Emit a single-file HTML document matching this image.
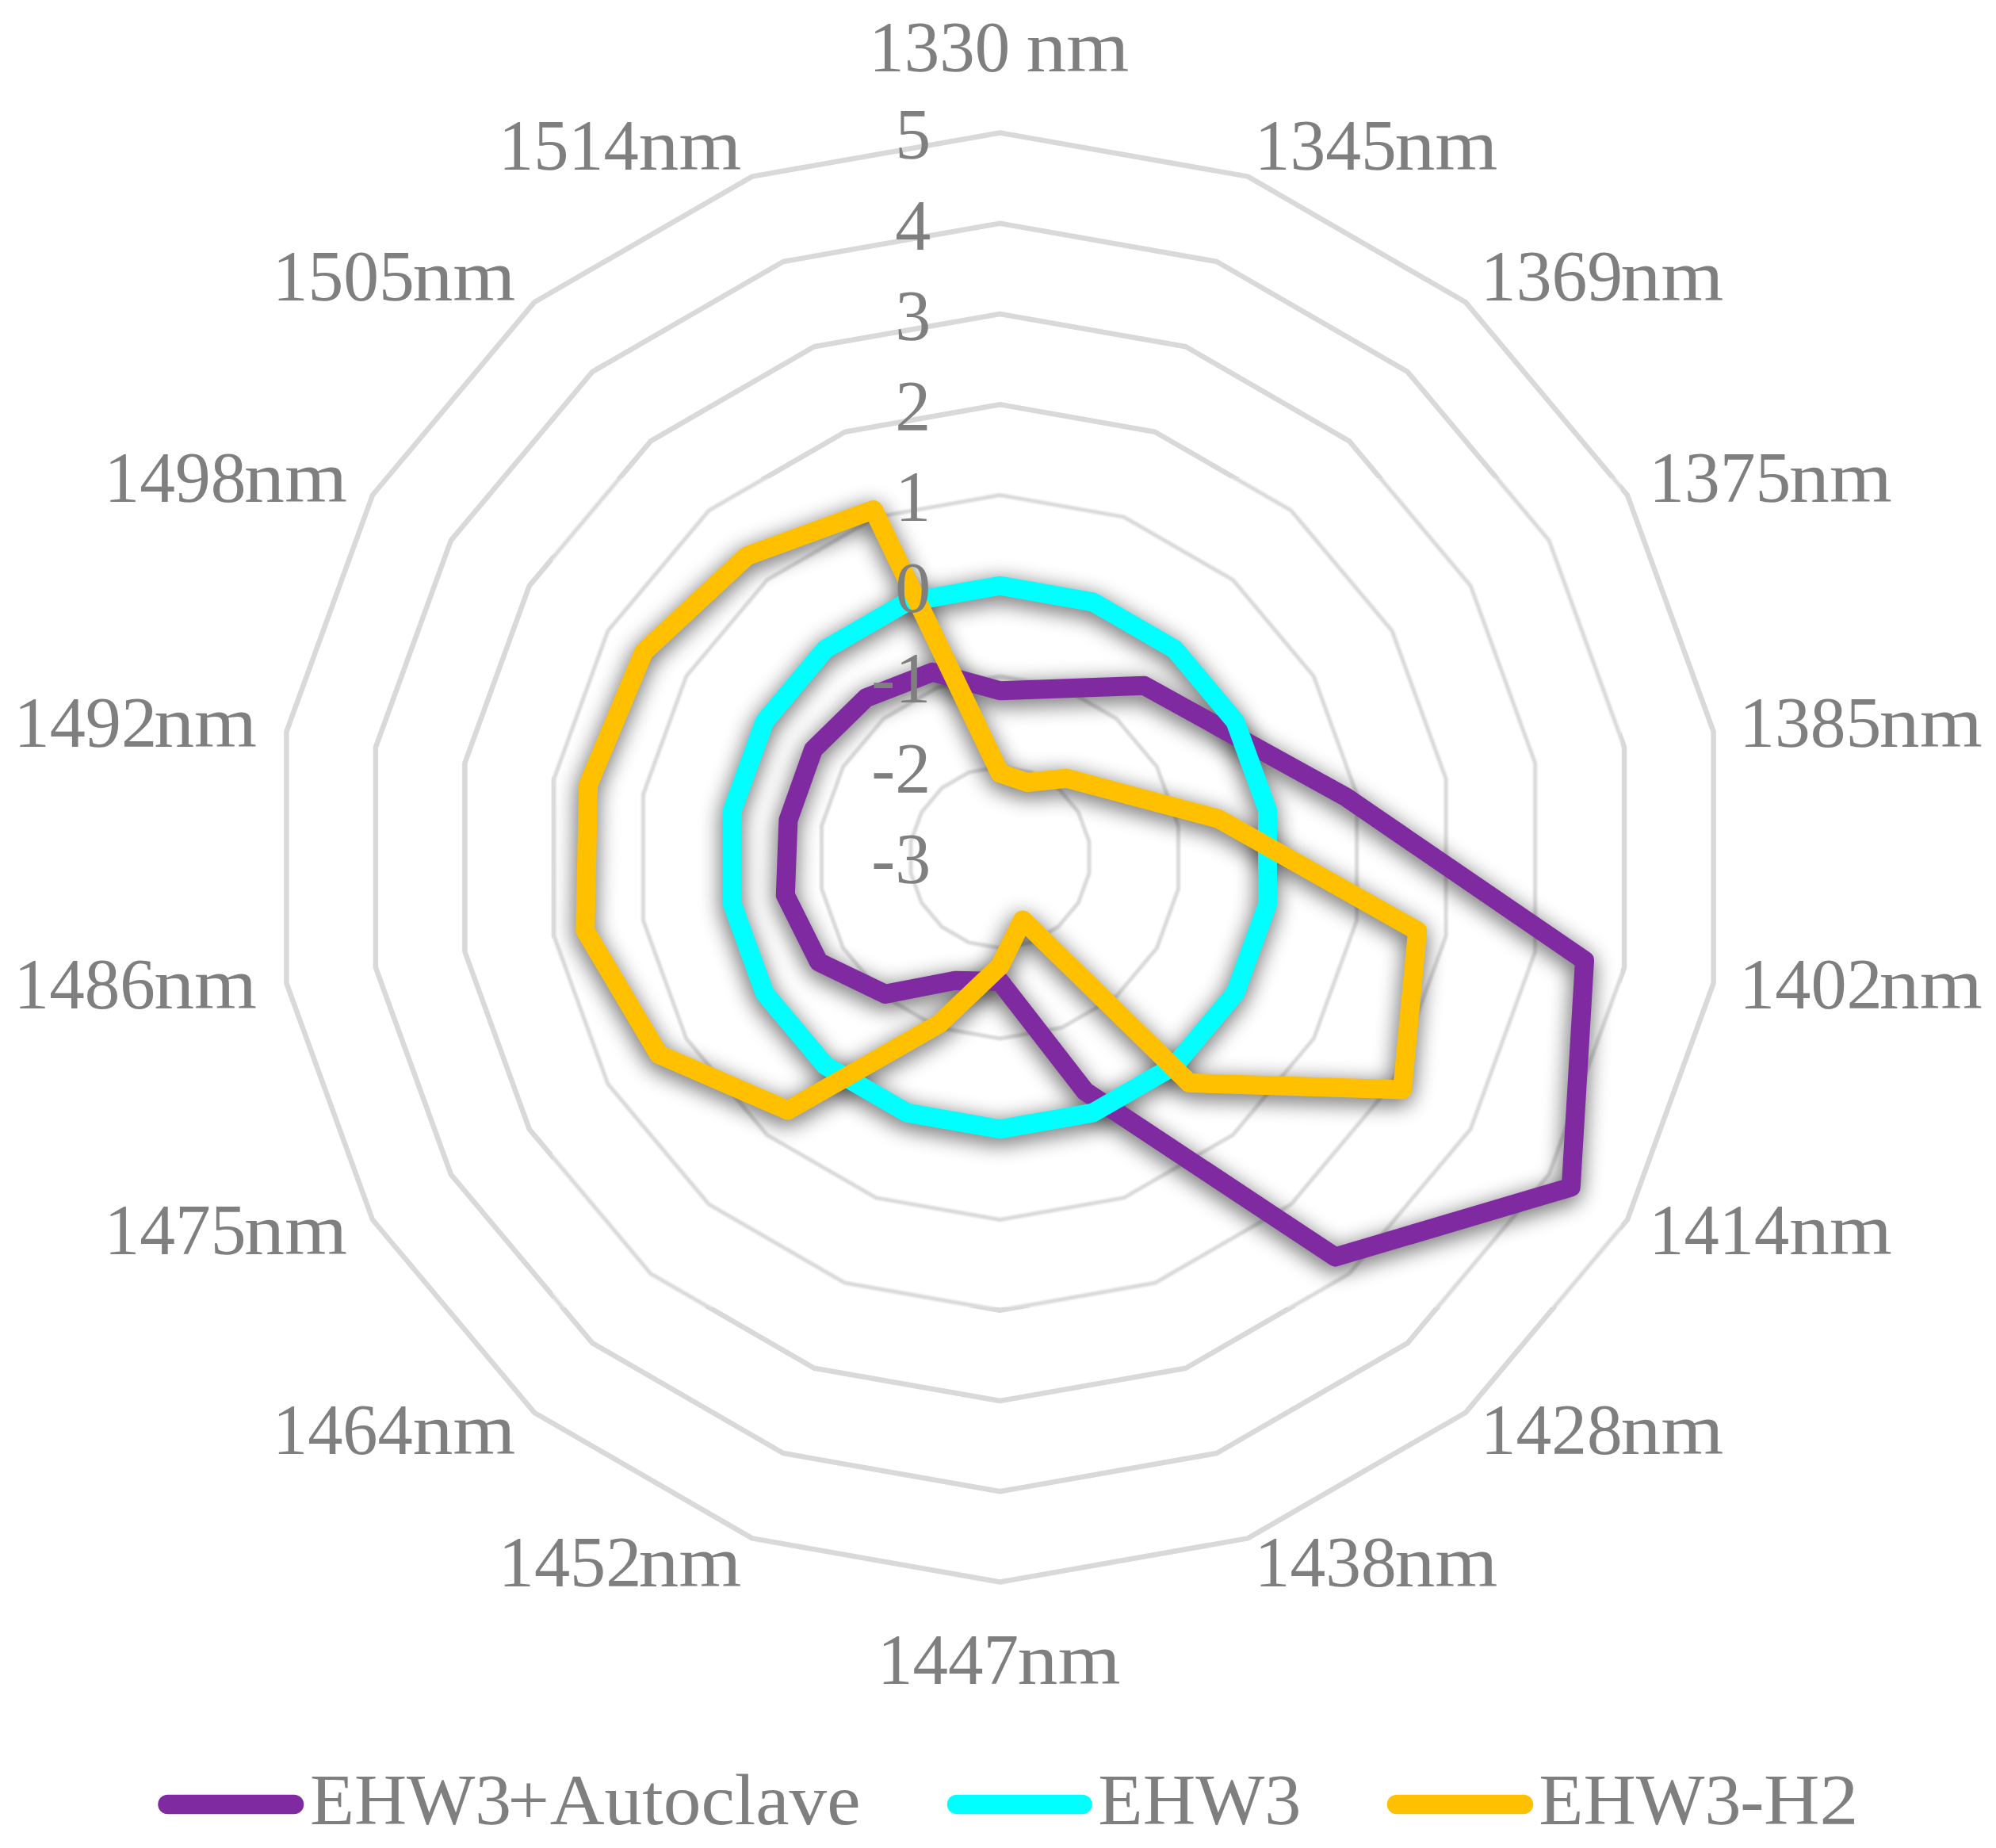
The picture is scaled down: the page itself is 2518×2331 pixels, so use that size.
<!DOCTYPE html>
<html lang="en"><head><meta charset="utf-8"><title>Radar chart</title>
<style>html,body{margin:0;padding:0;background:#fff}body{width:2518px;height:2331px;overflow:hidden}svg{display:block}text{font-family:"Liberation Serif",serif;font-size:90px;fill:#7F7F7F}</style></head><body>
<svg width="2518" height="2331" viewBox="0 0 2518 2331">
<defs><filter id="sh" x="-10%" y="-10%" width="120%" height="120%" color-interpolation-filters="sRGB"><feGaussianBlur in="SourceAlpha" stdDeviation="14"/><feOffset dx="-1" dy="6"/><feComponentTransfer><feFuncA type="linear" slope="0.66"/></feComponentTransfer></filter>
<filter id="gb" filterUnits="userSpaceOnUse" x="0" y="0" width="2518" height="2331"><feGaussianBlur stdDeviation="1.1"/></filter>
<clipPath id="cin"><rect x="697" y="603" width="1348" height="1046"/></clipPath>
<clipPath id="cout"><path clip-rule="evenodd" d="M0 0H2518V2331H0Z M697 603H2045V1649H697Z"/></clipPath></defs>
<rect width="2518" height="2331" fill="#fff"/>
<g id="grid" fill="none" stroke="#D9D9D9" stroke-width="6.5" stroke-linejoin="round">
<g clip-path="url(#cout)"><polygon points="1261.5,967.2 1300.6,974.1 1334.9,994.0 1360.4,1024.4 1374.0,1061.7 1374.0,1101.3 1360.4,1138.6 1334.9,1169.0 1300.6,1188.9 1261.5,1195.8 1222.4,1188.9 1188.1,1169.0 1162.6,1138.6 1149.0,1101.3 1149.0,1061.7 1162.6,1024.4 1188.1,994.0 1222.4,974.1"/><polygon points="1261.5,853.0 1339.7,866.8 1408.4,906.5 1459.4,967.2 1486.5,1041.8 1486.5,1121.2 1459.4,1195.8 1408.4,1256.5 1339.7,1296.2 1261.5,1310.0 1183.3,1296.2 1114.6,1256.5 1063.6,1195.8 1036.5,1121.2 1036.5,1041.8 1063.6,967.2 1114.6,906.5 1183.3,866.8"/><polygon points="1261.5,738.8 1378.7,759.4 1481.8,818.9 1558.3,910.1 1599.0,1022.0 1599.0,1141.0 1558.3,1252.9 1481.8,1344.1 1378.7,1403.6 1261.5,1424.2 1144.3,1403.6 1041.2,1344.1 964.7,1252.9 924.0,1141.0 924.0,1022.0 964.7,910.1 1041.2,818.9 1144.3,759.4"/><polygon points="1261.5,624.5 1417.8,652.1 1555.3,731.4 1657.3,853.0 1711.6,1002.1 1711.6,1160.9 1657.3,1310.0 1555.3,1431.6 1417.8,1510.9 1261.5,1538.5 1105.2,1510.9 967.7,1431.6 865.7,1310.0 811.4,1160.9 811.4,1002.1 865.7,853.0 967.7,731.4 1105.2,652.1"/><polygon points="1261.5,510.2 1456.9,544.7 1628.7,643.9 1756.2,795.9 1824.1,982.3 1824.1,1180.7 1756.2,1367.1 1628.7,1519.1 1456.9,1618.3 1261.5,1652.8 1066.1,1618.3 894.3,1519.1 766.8,1367.1 698.9,1180.7 698.9,982.3 766.8,795.9 894.3,643.9 1066.1,544.7"/><polygon points="1261.5,396.0 1496.0,437.3 1702.1,556.4 1855.2,738.8 1936.6,962.5 1936.6,1200.5 1855.2,1424.2 1702.1,1606.6 1496.0,1725.7 1261.5,1767.0 1027.0,1725.7 820.9,1606.6 667.8,1424.3 586.4,1200.5 586.4,962.5 667.8,738.8 820.9,556.4 1027.0,437.3"/><polygon points="1261.5,281.8 1535.0,330.0 1775.6,468.9 1954.1,681.6 2049.1,942.6 2049.1,1220.4 1954.1,1481.4 1775.6,1694.1 1535.0,1833.0 1261.5,1881.2 988.0,1833.0 747.4,1694.1 568.9,1481.4 473.9,1220.4 473.9,942.6 568.9,681.6 747.4,468.9 988.0,330.0"/><polygon points="1261.5,167.5 1574.1,222.6 1849.0,381.3 2053.0,624.5 2161.6,922.8 2161.6,1240.2 2053.0,1538.5 1849.0,1781.7 1574.1,1940.4 1261.5,1995.5 948.9,1940.4 674.0,1781.7 470.0,1538.5 361.4,1240.2 361.4,922.8 470.0,624.5 674.0,381.3 948.9,222.6"/></g>
<g clip-path="url(#cin)"><g filter="url(#gb)" stroke-width="5.0"><polygon points="1261.5,967.2 1300.6,974.1 1334.9,994.0 1360.4,1024.4 1374.0,1061.7 1374.0,1101.3 1360.4,1138.6 1334.9,1169.0 1300.6,1188.9 1261.5,1195.8 1222.4,1188.9 1188.1,1169.0 1162.6,1138.6 1149.0,1101.3 1149.0,1061.7 1162.6,1024.4 1188.1,994.0 1222.4,974.1"/><polygon points="1261.5,853.0 1339.7,866.8 1408.4,906.5 1459.4,967.2 1486.5,1041.8 1486.5,1121.2 1459.4,1195.8 1408.4,1256.5 1339.7,1296.2 1261.5,1310.0 1183.3,1296.2 1114.6,1256.5 1063.6,1195.8 1036.5,1121.2 1036.5,1041.8 1063.6,967.2 1114.6,906.5 1183.3,866.8"/><polygon points="1261.5,738.8 1378.7,759.4 1481.8,818.9 1558.3,910.1 1599.0,1022.0 1599.0,1141.0 1558.3,1252.9 1481.8,1344.1 1378.7,1403.6 1261.5,1424.2 1144.3,1403.6 1041.2,1344.1 964.7,1252.9 924.0,1141.0 924.0,1022.0 964.7,910.1 1041.2,818.9 1144.3,759.4"/><polygon points="1261.5,624.5 1417.8,652.1 1555.3,731.4 1657.3,853.0 1711.6,1002.1 1711.6,1160.9 1657.3,1310.0 1555.3,1431.6 1417.8,1510.9 1261.5,1538.5 1105.2,1510.9 967.7,1431.6 865.7,1310.0 811.4,1160.9 811.4,1002.1 865.7,853.0 967.7,731.4 1105.2,652.1"/><polygon points="1261.5,510.2 1456.9,544.7 1628.7,643.9 1756.2,795.9 1824.1,982.3 1824.1,1180.7 1756.2,1367.1 1628.7,1519.1 1456.9,1618.3 1261.5,1652.8 1066.1,1618.3 894.3,1519.1 766.8,1367.1 698.9,1180.7 698.9,982.3 766.8,795.9 894.3,643.9 1066.1,544.7"/><polygon points="1261.5,396.0 1496.0,437.3 1702.1,556.4 1855.2,738.8 1936.6,962.5 1936.6,1200.5 1855.2,1424.2 1702.1,1606.6 1496.0,1725.7 1261.5,1767.0 1027.0,1725.7 820.9,1606.6 667.8,1424.3 586.4,1200.5 586.4,962.5 667.8,738.8 820.9,556.4 1027.0,437.3"/><polygon points="1261.5,281.8 1535.0,330.0 1775.6,468.9 1954.1,681.6 2049.1,942.6 2049.1,1220.4 1954.1,1481.4 1775.6,1694.1 1535.0,1833.0 1261.5,1881.2 988.0,1833.0 747.4,1694.1 568.9,1481.4 473.9,1220.4 473.9,942.6 568.9,681.6 747.4,468.9 988.0,330.0"/><polygon points="1261.5,167.5 1574.1,222.6 1849.0,381.3 2053.0,624.5 2161.6,922.8 2161.6,1240.2 2053.0,1538.5 1849.0,1781.7 1574.1,1940.4 1261.5,1995.5 948.9,1940.4 674.0,1781.7 470.0,1538.5 361.4,1240.2 361.4,922.8 470.0,624.5 674.0,381.3 948.9,222.6"/></g></g>
</g>
<polygon points="1261.5,871.3 1339.0,868.5 1443.3,864.8 1542.3,919.4 1696.9,1004.7 1999.0,1211.5 1981.8,1497.4 1684.5,1585.6 1368.8,1376.4 1261.5,1238.0 1205.0,1236.8 1116.8,1253.9 1032.9,1213.5 990.8,1129.2 994.4,1034.4 1026.0,945.5 1092.6,880.2 1176.4,847.8" fill="none" stroke="#000" stroke-width="24" stroke-linejoin="round" filter="url(#sh)"/>
<polygon points="1261.5,738.8 1378.7,759.4 1481.8,818.9 1558.3,910.1 1599.0,1022.0 1599.0,1141.0 1558.3,1252.9 1481.8,1344.1 1378.7,1403.6 1261.5,1424.2 1144.3,1403.6 1041.2,1344.1 964.7,1252.9 924.0,1141.0 924.0,1022.0 964.7,910.1 1041.2,818.9 1144.3,759.4" fill="none" stroke="#000" stroke-width="24" stroke-linejoin="round" filter="url(#sh)"/>
<polygon points="1261.5,975.2 1295.9,987.0 1345.2,981.7 1406.2,998.0 1537.2,1032.9 1788.1,1174.3 1769.1,1374.6 1500.2,1365.9 1290.2,1160.4 1261.5,1218.6 1185.1,1291.4 993.8,1400.5 831.1,1330.0 738.3,1173.8 742.2,989.9 812.3,822.2 942.5,701.3 1102.0,643.1" fill="none" stroke="#000" stroke-width="24" stroke-linejoin="round" filter="url(#sh)"/>
<polygon points="1261.5,871.3 1339.0,868.5 1443.3,864.8 1542.3,919.4 1696.9,1004.7 1999.0,1211.5 1981.8,1497.4 1684.5,1585.6 1368.8,1376.4 1261.5,1238.0 1205.0,1236.8 1116.8,1253.9 1032.9,1213.5 990.8,1129.2 994.4,1034.4 1026.0,945.5 1092.6,880.2 1176.4,847.8" fill="none" stroke="#7F2AA1" stroke-width="24" stroke-linejoin="round"/>
<polygon points="1261.5,738.8 1378.7,759.4 1481.8,818.9 1558.3,910.1 1599.0,1022.0 1599.0,1141.0 1558.3,1252.9 1481.8,1344.1 1378.7,1403.6 1261.5,1424.2 1144.3,1403.6 1041.2,1344.1 964.7,1252.9 924.0,1141.0 924.0,1022.0 964.7,910.1 1041.2,818.9 1144.3,759.4" fill="none" stroke="#00FFFF" stroke-width="24" stroke-linejoin="round"/>
<polygon points="1261.5,975.2 1295.9,987.0 1345.2,981.7 1406.2,998.0 1537.2,1032.9 1788.1,1174.3 1769.1,1374.6 1500.2,1365.9 1290.2,1160.4 1261.5,1218.6 1185.1,1291.4 993.8,1400.5 831.1,1330.0 738.3,1173.8 742.2,989.9 812.3,822.2 942.5,701.3 1102.0,643.1" fill="none" stroke="#FFC000" stroke-width="24" stroke-linejoin="round"/>
<text x="1174.3" y="1114.3" text-anchor="end">-3</text>
<text x="1174.3" y="1000.0" text-anchor="end">-2</text>
<text x="1174.3" y="885.8" text-anchor="end">-1</text>
<text x="1174.3" y="771.5" text-anchor="end">0</text>
<text x="1174.3" y="657.3" text-anchor="end">1</text>
<text x="1174.3" y="543.0" text-anchor="end">2</text>
<text x="1174.3" y="428.8" text-anchor="end">3</text>
<text x="1174.3" y="314.6" text-anchor="end">4</text>
<text x="1174.3" y="200.3" text-anchor="end">5</text>
<text id="c0" y="89.7" xml:space="preserve"><tspan x="1096.29" textLength="177.97" lengthAdjust="spacingAndGlyphs">1330</tspan><tspan> </tspan><tspan x="1294.53" textLength="129.96" lengthAdjust="spacingAndGlyphs">nm</tspan></text>
<text id="c1" y="214.0" xml:space="preserve"><tspan x="1582.84" textLength="179.04" lengthAdjust="spacingAndGlyphs">1345</tspan><tspan x="1759.53" textLength="129.96" lengthAdjust="spacingAndGlyphs">nm</tspan></text>
<text id="c2" y="378.6" xml:space="preserve"><tspan x="1867.83" textLength="179.25" lengthAdjust="spacingAndGlyphs">1369</tspan><tspan x="2044.53" textLength="129.96" lengthAdjust="spacingAndGlyphs">nm</tspan></text>
<text id="c3" y="633.0" xml:space="preserve"><tspan x="2080.24" textLength="179.04" lengthAdjust="spacingAndGlyphs">1375</tspan><tspan x="2256.93" textLength="129.96" lengthAdjust="spacingAndGlyphs">nm</tspan></text>
<text id="c4" y="942.2" xml:space="preserve"><tspan x="2194.14" textLength="179.04" lengthAdjust="spacingAndGlyphs">1385</tspan><tspan x="2370.83" textLength="129.96" lengthAdjust="spacingAndGlyphs">nm</tspan></text>
<text id="c5" y="1271.8" xml:space="preserve"><tspan x="2194.07" textLength="180.65" lengthAdjust="spacingAndGlyphs">1402</tspan><tspan x="2370.83" textLength="129.96" lengthAdjust="spacingAndGlyphs">nm</tspan></text>
<text id="c6" y="1581.5" xml:space="preserve"><tspan x="2080.34" textLength="176.84" lengthAdjust="spacingAndGlyphs">1414</tspan><tspan x="2256.93" textLength="129.96" lengthAdjust="spacingAndGlyphs">nm</tspan></text>
<text id="c7" y="1833.7" xml:space="preserve"><tspan x="1867.85" textLength="178.93" lengthAdjust="spacingAndGlyphs">1428</tspan><tspan x="2044.53" textLength="129.96" lengthAdjust="spacingAndGlyphs">nm</tspan></text>
<text id="c8" y="2001.0" xml:space="preserve"><tspan x="1582.85" textLength="178.93" lengthAdjust="spacingAndGlyphs">1438</tspan><tspan x="1759.53" textLength="129.96" lengthAdjust="spacingAndGlyphs">nm</tspan></text>
<text id="c9" y="2123.6" xml:space="preserve"><tspan x="1106.98" textLength="178.09" lengthAdjust="spacingAndGlyphs">1447</tspan><tspan x="1283.63" textLength="129.96" lengthAdjust="spacingAndGlyphs">nm</tspan></text>
<text id="c10" y="2001.0" xml:space="preserve"><tspan x="628.77" textLength="180.65" lengthAdjust="spacingAndGlyphs">1452</tspan><tspan x="805.53" textLength="129.96" lengthAdjust="spacingAndGlyphs">nm</tspan></text>
<text id="c11" y="1833.7" xml:space="preserve"><tspan x="343.94" textLength="176.84" lengthAdjust="spacingAndGlyphs">1464</tspan><tspan x="520.53" textLength="129.96" lengthAdjust="spacingAndGlyphs">nm</tspan></text>
<text id="c12" y="1581.5" xml:space="preserve"><tspan x="131.44" textLength="179.04" lengthAdjust="spacingAndGlyphs">1475</tspan><tspan x="308.13" textLength="129.96" lengthAdjust="spacingAndGlyphs">nm</tspan></text>
<text id="c13" y="1271.8" xml:space="preserve"><tspan x="17.58" textLength="178.19" lengthAdjust="spacingAndGlyphs">1486</tspan><tspan x="194.23" textLength="129.96" lengthAdjust="spacingAndGlyphs">nm</tspan></text>
<text id="c14" y="942.2" xml:space="preserve"><tspan x="17.47" textLength="180.65" lengthAdjust="spacingAndGlyphs">1492</tspan><tspan x="194.23" textLength="129.96" lengthAdjust="spacingAndGlyphs">nm</tspan></text>
<text id="c15" y="633.0" xml:space="preserve"><tspan x="131.45" textLength="178.93" lengthAdjust="spacingAndGlyphs">1498</tspan><tspan x="308.13" textLength="129.96" lengthAdjust="spacingAndGlyphs">nm</tspan></text>
<text id="c16" y="378.6" xml:space="preserve"><tspan x="343.84" textLength="179.04" lengthAdjust="spacingAndGlyphs">1505</tspan><tspan x="520.53" textLength="129.96" lengthAdjust="spacingAndGlyphs">nm</tspan></text>
<text id="c17" y="214.0" xml:space="preserve"><tspan x="628.94" textLength="176.84" lengthAdjust="spacingAndGlyphs">1514</tspan><tspan x="805.53" textLength="129.96" lengthAdjust="spacingAndGlyphs">nm</tspan></text>
<text id="l1" y="2300.8" xml:space="preserve"><tspan x="391.06" textLength="254.02" lengthAdjust="spacingAndGlyphs">EHW3</tspan><tspan x="640.45" textLength="52.45" lengthAdjust="spacingAndGlyphs">+</tspan><tspan x="693.65" textLength="391.99" lengthAdjust="spacingAndGlyphs">Autoclave</tspan></text>
<text id="l2" y="2300.8" xml:space="preserve"><tspan x="1385.34" textLength="256.07" lengthAdjust="spacingAndGlyphs">EHW3</tspan></text>
<text id="l3" y="2300.8" xml:space="preserve"><tspan x="1941.35" textLength="254.94" lengthAdjust="spacingAndGlyphs">EHW3</tspan><tspan x="2195.19" textLength="30.10" lengthAdjust="spacingAndGlyphs">-</tspan><tspan x="2224.98" textLength="119.45" lengthAdjust="spacingAndGlyphs">H2</tspan></text>
<line x1="211.5" y1="2276" x2="371.0" y2="2276" stroke="#7F2AA1" stroke-width="24.5" stroke-linecap="round"/>
<line x1="1207.0" y1="2276" x2="1365.5" y2="2276" stroke="#00FFFF" stroke-width="24.5" stroke-linecap="round"/>
<line x1="1762.0" y1="2276" x2="1922.0" y2="2276" stroke="#FFC000" stroke-width="24.5" stroke-linecap="round"/>
</svg></body></html>
